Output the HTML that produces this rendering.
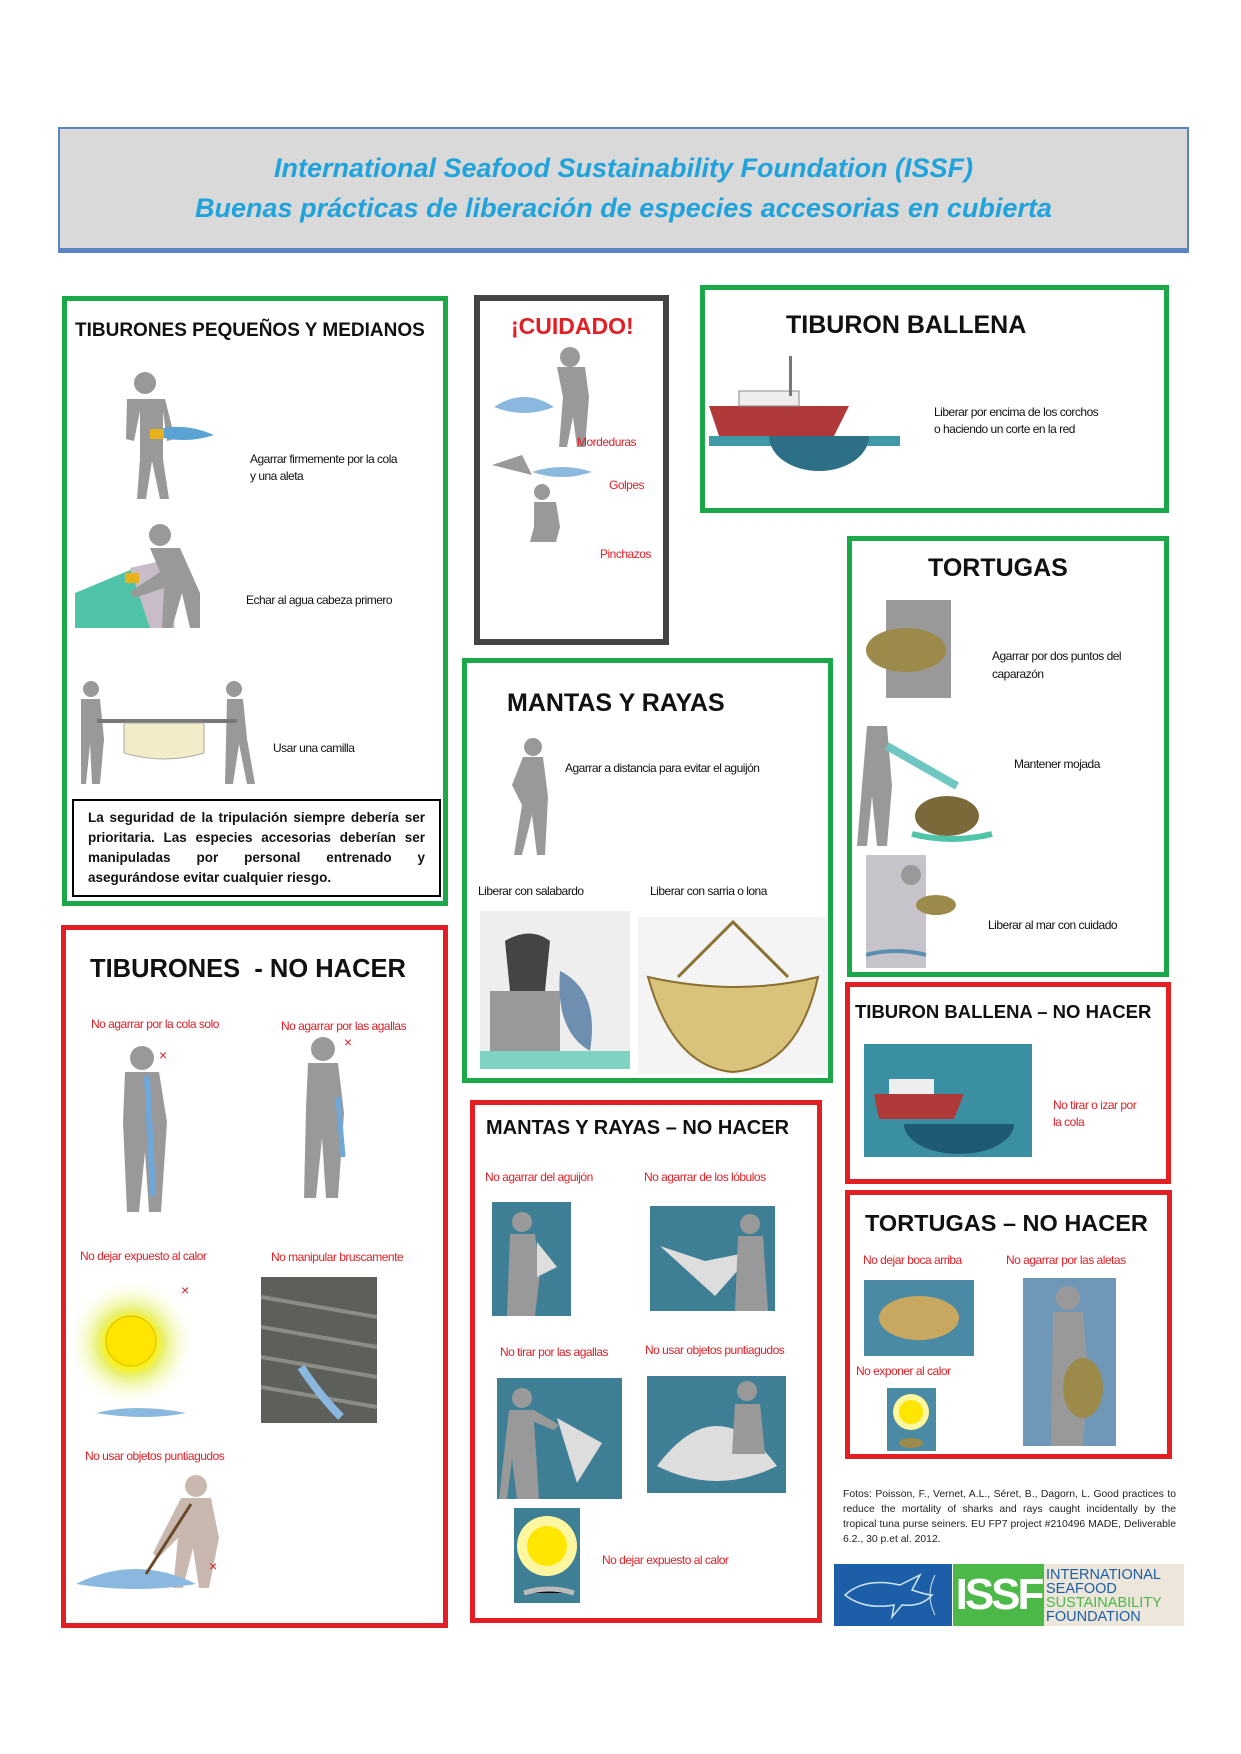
<!DOCTYPE html>
<html><head><meta charset="utf-8">
<style>
*{margin:0;padding:0;box-sizing:border-box}
body{width:1241px;height:1754px;background:#fff;position:relative;font-family:"Liberation Sans",Arial,sans-serif;overflow:hidden}
.a{position:absolute}
.g{position:absolute;border:5px solid #1aa84a;background:#fff}
.r{position:absolute;border:5px solid #e31e24;background:#fff}
.k{position:absolute;border:6px solid #444;background:#fff}
.t{position:absolute;font-weight:bold;color:#111;white-space:nowrap}
.l{position:absolute;font-size:12px;color:#111;white-space:nowrap;letter-spacing:-0.5px}
.rl{position:absolute;font-size:12px;color:#e31e24;white-space:nowrap;letter-spacing:-0.5px}
.img{position:absolute}
</style></head><body>

<!-- header -->
<div class="a" style="left:58px;top:127px;width:1131px;height:126px;background:#d9d9d9;border:2px solid #5b84c4;border-bottom:5px solid #5b84c4"></div>
<div class="a" style="left:58px;top:148px;width:1131px;text-align:center;color:#1fa3dc;font-style:italic;font-weight:bold;font-size:27px;line-height:40px">International Seafood Sustainability Foundation (ISSF)<br>Buenas prácticas de liberación de especies accesorias en cubierta</div>

<!-- small sharks -->
<div class="g" style="left:62px;top:296px;width:386px;height:610px"></div>
<div class="t" style="left:75px;top:320px;font-size:19px">TIBURONES PEQUEÑOS Y MEDIANOS</div>
<svg class="img" style="left:112px;top:371px" width="102" height="130"><circle cx="33" cy="12" r="11" fill="#999"/><path d="M15 28h38l10 40-8 2-4-30v48l6 40h-9l-8-38-6 38h-9l3-40V40l-6 30-8-2z" fill="#999"/><path d="M40 60q30-10 62 4-30 10-62 0z" fill="#5aa3d4"/><rect x="38" y="58" width="14" height="10" fill="#e8b21c"/></svg>
<div class="l" style="left:250px;top:451px;line-height:17px">Agarrar firmemente por la cola<br>y una aleta</div>
<svg class="img" style="left:75px;top:523px" width="133" height="107"><path d="M0 70l60-25 20 60H0z" fill="#4fc4a8"/><path d="M55 45l35-8 10 68H75z" fill="#c7bcc8"/><circle cx="85" cy="12" r="11" fill="#999"/><path d="M75 25h30l20 45v35h-10l-8-35-10 35h-10l2-40-30 10-4-6 30-20z" fill="#999"/><rect x="50" y="50" width="14" height="10" fill="#e8b21c"/></svg>
<div class="l" style="left:246px;top:593px">Echar al agua cabeza primero</div>
<svg class="img" style="left:79px;top:681px" width="177" height="107"><circle cx="12" cy="8" r="8" fill="#999"/><path d="M5 18h16l4 40-4 45h-8l-2-40-4 40H2l0-85z" fill="#999"/><circle cx="155" cy="8" r="8" fill="#999"/><path d="M148 18h16l4 40 8 45h-8l-8-40-6 40h-8l2-85z" fill="#999"/><rect x="18" y="38" width="140" height="4" fill="#777"/><path d="M45 42h80v30q-40 12-80 0z" fill="#f3ecc8" stroke="#aaa"/></svg>
<div class="l" style="left:273px;top:741px">Usar una camilla</div>
<div class="a" style="left:72px;top:799px;width:369px;height:98px;border:2.5px solid #000;padding:7px 14px 0 14px;font-size:13.5px;line-height:20px;text-align:justify;font-weight:bold;color:#111">La seguridad de la tripulación siempre debería ser prioritaria. Las especies accesorias deberían ser manipuladas por personal entrenado y asegurándose evitar cualquier riesgo.</div>

<!-- cuidado -->
<div class="k" style="left:474px;top:295px;width:195px;height:350px"></div>
<div class="t" style="left:511px;top:313px;font-size:23px;color:#e31e24">¡CUIDADO!</div>
<svg class="img" style="left:492px;top:347px" width="125" height="195"><circle cx="78" cy="10" r="10" fill="#999"/><path d="M65 20h28l4 30-4 50h-8l-4-30-6 30h-8l4-50z" fill="#999"/><path d="M2 60q30-20 60 0-30 12-60 0z" fill="#8ab8de"/><path d="M40 125q30-10 60 0-30 10-60 0z" fill="#8ab8de"/><path d="M0 118l30-10 10 20z" fill="#999"/><circle cx="50" cy="145" r="8" fill="#999"/><path d="M42 155h22l4 25-4 15h-26l4-15z" fill="#999"/></svg>
<div class="rl" style="left:577px;top:435px">Mordeduras</div>
<div class="rl" style="left:609px;top:478px">Golpes</div>
<div class="rl" style="left:600px;top:547px">Pinchazos</div>

<!-- ballena -->
<div class="g" style="left:700px;top:285px;width:469px;height:228px"></div>
<div class="t" style="left:786px;top:311px;font-size:25px">TIBURON BALLENA</div>
<svg class="img" style="left:709px;top:351px" width="191" height="122"><path d="M0 55h140l-15 30H10z" fill="#b03a3a"/><rect x="30" y="40" width="60" height="15" fill="#eee" stroke="#888"/><rect x="80" y="5" width="3" height="40" fill="#777"/><path d="M0 85h191v10H0z" fill="#3f9aa8"/><path d="M60 85a50 35 0 0 0 100 0z" fill="#2c6f87"/></svg>
<div class="l" style="left:934px;top:404px;line-height:17px">Liberar por encima de los corchos<br>o haciendo un corte en la red</div>

<!-- tortugas -->
<div class="g" style="left:847px;top:536px;width:322px;height:441px"></div>
<div class="t" style="left:928px;top:554px;font-size:25px">TORTUGAS</div>
<svg class="img" style="left:861px;top:600px" width="101" height="98"><rect x="25" y="0" width="65" height="98" fill="#999"/><ellipse cx="45" cy="50" rx="40" ry="22" fill="#9c8a4a"/></svg>
<div class="l" style="left:992px;top:647px;line-height:18px">Agarrar por dos puntos del<br>caparazón</div>
<svg class="img" style="left:857px;top:726px" width="144" height="129"><path d="M10 0h20l5 60-5 60h-10l-5-50-5 50H0z" fill="#999"/><path d="M30 20l70 40" stroke="#6ec7c0" stroke-width="8"/><ellipse cx="90" cy="90" rx="32" ry="20" fill="#7a6a3a"/><path d="M55 108q40 10 80 0" stroke="#4fc4a8" stroke-width="6" fill="none"/></svg>
<div class="l" style="left:1014px;top:757px">Mantener mojada</div>
<svg class="img" style="left:866px;top:855px" width="102" height="113"><rect x="0" y="0" width="60" height="113" fill="#c7c3cb"/><circle cx="45" cy="20" r="10" fill="#999"/><ellipse cx="70" cy="50" rx="20" ry="10" fill="#9c8a4a"/><path d="M0 100q30-8 60 0" stroke="#5a8fb0" stroke-width="4" fill="none"/></svg>
<div class="l" style="left:988px;top:918px">Liberar al mar con cuidado</div>

<!-- mantas -->
<div class="g" style="left:462px;top:658px;width:371px;height:425px"></div>
<div class="t" style="left:507px;top:689px;font-size:25px">MANTAS Y RAYAS</div>
<svg class="img" style="left:498px;top:737px" width="59" height="118"><circle cx="35" cy="10" r="9" fill="#999"/><path d="M25 20h20l5 40-3 58h-8l-5-40-10 40h-8l8-50-10-20z" fill="#999"/></svg>
<div class="l" style="left:565px;top:761px">Agarrar a distancia para evitar el aguijón</div>
<div class="l" style="left:478px;top:884px">Liberar con salabardo</div>
<div class="l" style="left:650px;top:884px">Liberar con sarria o lona</div>
<svg class="img" style="left:480px;top:911px" width="150" height="158"><rect x="0" y="0" width="150" height="158" fill="#eee"/><rect x="10" y="80" width="70" height="70" fill="#999"/><path d="M25 30q25-15 45 0l-5 50h-35z" fill="#444"/><path d="M80 60q40 20 30 80-35-20-30-80z" fill="#6e8fb0"/><path d="M0 140h150v18H0z" fill="#7fd3c2"/></svg>
<svg class="img" style="left:638px;top:917px" width="189" height="157"><rect width="189" height="157" fill="#f4f4f4"/><path d="M10 60q90 20 170 0-20 90-85 95-60-5-85-95z" fill="#d9c27a" stroke="#8a7030" stroke-width="2"/><path d="M40 60l55-55 55 55" stroke="#8a7030" stroke-width="3" fill="none"/></svg>

<!-- tiburones no hacer -->
<div class="r" style="left:61px;top:925px;width:387px;height:703px"></div>
<div class="t" style="left:90px;top:955px;font-size:25.5px">TIBURONES&nbsp; - NO HACER</div>
<div class="rl" style="left:91px;top:1017px">No agarrar por la cola solo</div>
<div class="rl" style="left:281px;top:1019px">No agarrar por las agallas</div>
<svg class="img" style="left:107px;top:1046px" width="73" height="169"><circle cx="35" cy="12" r="12" fill="#999"/><path d="M18 26h34l8 50-6 90h-12l-4-60-6 60H20l-4-90z" fill="#999"/><path d="M40 30l6 120" stroke="#6ea8d8" stroke-width="6"/><text x="52" y="14" font-size="14" fill="#e31e24">×</text></svg>
<svg class="img" style="left:298px;top:1037px" width="62" height="161"><circle cx="25" cy="12" r="12" fill="#999"/><path d="M10 26h30l6 50-6 85h-12l-4-60-6 60H6l2-90z" fill="#999"/><path d="M40 60l5 60" stroke="#6ea8d8" stroke-width="5"/><text x="46" y="10" font-size="14" fill="#e31e24">×</text></svg>
<div class="rl" style="left:80px;top:1249px">No dejar expuesto al calor</div>
<div class="rl" style="left:271px;top:1250px">No manipular bruscamente</div>
<svg class="img" style="left:76px;top:1283px" width="127" height="146"><defs><radialGradient id="s1"><stop offset="0.35" stop-color="#fff200"/><stop offset="0.5" stop-color="#e8f070"/><stop offset="1" stop-color="#fff" stop-opacity="0"/></radialGradient></defs><circle cx="55" cy="60" r="65" fill="url(#s1)"/><circle cx="55" cy="58" r="25" fill="#ffe600" stroke="#d6b800"/><path d="M20 130q40-10 90 0-40 8-90 0z" fill="#8ab8de"/><text x="105" y="12" font-size="14" fill="#e31e24">×</text></svg>
<svg class="img" style="left:261px;top:1277px" width="116" height="146"><rect width="116" height="146" fill="#5d5f5a"/><path d="M0 20l116 20M0 50l116 20M0 80l116 20M0 110l116 20" stroke="#8a8c85" stroke-width="4"/><path d="M40 90q20 30 40 50" stroke="#8ab8de" stroke-width="8"/></svg>
<div class="rl" style="left:85px;top:1449px">No usar objetos puntiagudos</div>
<svg class="img" style="left:76px;top:1474px" width="160" height="129"><circle cx="120" cy="12" r="11" fill="#c9b8b0"/><path d="M105 24h30l8 40-10 50h-10l-6-40-10 40h-10l5-50-20 20-5-5z" fill="#c9b8b0"/><path d="M0 110q60-30 120 0-60 10-120 0z" fill="#8ab8de"/><path d="M70 100l45-70" stroke="#6a4a2a" stroke-width="3"/><text x="133" y="97" font-size="14" fill="#e31e24">×</text></svg>

<!-- mantas no hacer -->
<div class="r" style="left:470px;top:1100px;width:352px;height:523px"></div>
<div class="t" style="left:486px;top:1117px;font-size:20px">MANTAS Y RAYAS – NO HACER</div>
<div class="rl" style="left:485px;top:1170px">No agarrar del aguijón</div>
<div class="rl" style="left:644px;top:1170px">No agarrar de los lóbulos</div>
<svg class="img" style="left:492px;top:1202px" width="79" height="114"><rect width="79" height="114" fill="#3f7f95"/><circle cx="30" cy="20" r="10" fill="#999"/><path d="M18 32h25l5 40-5 42H15z" fill="#999"/><path d="M45 40l20 25-20 10z" fill="#ddd"/></svg>
<svg class="img" style="left:650px;top:1206px" width="125" height="105"><rect width="125" height="105" fill="#3f7f95"/><path d="M10 40l55 50 40-45-50 10z" fill="#ddd"/><circle cx="100" cy="18" r="10" fill="#999"/><path d="M88 30h25l5 75H85z" fill="#999"/></svg>
<div class="rl" style="left:500px;top:1345px">No tirar por las agallas</div>
<div class="rl" style="left:645px;top:1343px">No usar objetos puntiagudos</div>
<svg class="img" style="left:497px;top:1378px" width="125" height="121"><rect width="125" height="121" fill="#3f7f95"/><circle cx="25" cy="20" r="10" fill="#999"/><path d="M12 32h25l25 15-5 5-20-8 5 77H20l-5-40-5 40H2z" fill="#999"/><path d="M60 40l45 25-25 40z" fill="#ddd"/></svg>
<svg class="img" style="left:647px;top:1376px" width="139" height="117"><rect width="139" height="117" fill="#3f7f95"/><path d="M10 90q60-80 120 0-60 30-120 0z" fill="#ddd"/><circle cx="100" cy="15" r="10" fill="#999"/><path d="M88 28h25l5 50H85z" fill="#999"/></svg>
<svg class="img" style="left:514px;top:1508px" width="66" height="95"><rect width="66" height="95" fill="#3f7f95"/><circle cx="33" cy="38" r="30" fill="#fff7a0"/><circle cx="33" cy="38" r="20" fill="#ffe600"/><path d="M10 85q25-8 50 0" stroke="#bbb" stroke-width="5"/></svg>
<div class="rl" style="left:602px;top:1553px">No dejar expuesto al calor</div>

<!-- ballena no hacer -->
<div class="r" style="left:845px;top:982px;width:326px;height:202px"></div>
<div class="t" style="left:855px;top:1001px;font-size:18.5px">TIBURON BALLENA – NO HACER</div>
<svg class="img" style="left:864px;top:1044px" width="168" height="113"><rect width="168" height="113" fill="#3a8fa3"/><path d="M10 50h90l-10 25H15z" fill="#b03a3a"/><rect x="25" y="35" width="45" height="15" fill="#eee"/><path d="M40 80a55 30 0 0 0 110 0z" fill="#1f5a75"/></svg>
<div class="rl" style="left:1053px;top:1097px;line-height:17px">No tirar o izar por<br>la cola</div>

<!-- tortugas no hacer -->
<div class="r" style="left:845px;top:1190px;width:327px;height:269px"></div>
<div class="t" style="left:865px;top:1210px;font-size:23.5px">TORTUGAS – NO HACER</div>
<div class="rl" style="left:863px;top:1253px">No dejar boca arriba</div>
<div class="rl" style="left:1006px;top:1253px">No agarrar por las aletas</div>
<svg class="img" style="left:864px;top:1280px" width="110" height="76"><rect width="110" height="76" fill="#4a8aa5"/><ellipse cx="55" cy="38" rx="40" ry="22" fill="#c8a860"/></svg>
<svg class="img" style="left:1023px;top:1278px" width="93" height="168"><rect width="93" height="168" fill="#6f98b8"/><circle cx="45" cy="20" r="12" fill="#999"/><path d="M30 34h30l5 60-5 74H28z" fill="#999"/><ellipse cx="60" cy="110" rx="20" ry="30" fill="#9c8a4a"/></svg>
<div class="rl" style="left:856px;top:1364px">No exponer al calor</div>
<svg class="img" style="left:887px;top:1388px" width="49" height="63"><rect width="49" height="63" fill="#4a8aa5"/><circle cx="24" cy="24" r="18" fill="#fff7a0"/><circle cx="24" cy="24" r="12" fill="#ffe600"/><ellipse cx="24" cy="55" rx="12" ry="5" fill="#9c8a4a"/></svg>

<!-- fotos -->
<div class="a" style="left:843px;top:1487px;width:333px;font-size:10.4px;line-height:15px;text-align:justify;color:#222">Fotos: Poisson, F., Vernet, A.L., Séret, B., Dagorn, L. Good practices to reduce the mortality of sharks and rays caught incidentally by the tropical tuna purse seiners. EU FP7 project #210496 MADE, Deliverable 6.2., 30 p.et al. 2012.</div>

<!-- logo -->
<div class="a" style="left:834px;top:1564px;width:118px;height:62px;background:#1d5ea8"></div>
<svg class="img" style="left:840px;top:1570px" width="110" height="50"><path d="M5 25q20-18 55-10l20-10-8 15q15 5 20 5-10 12-30 10l-10 12 2-12q-30 5-49-10z" fill="none" stroke="#cfe6f5" stroke-width="1.5"/><path d="M95 5q-10 20 0 40" stroke="#cfe6f5" fill="none"/></svg>
<div class="a" style="left:953px;top:1564px;width:91px;height:62px;background:#4bb848;color:#fff;font-weight:bold;font-size:44px;line-height:62px;text-align:center;letter-spacing:-3px;font-family:'Liberation Sans Narrow','Liberation Sans',sans-serif">ISSF</div>
<div class="a" style="left:1044px;top:1564px;width:140px;height:62px;background:#ece7da;font-size:14.5px;line-height:14px;padding-top:4px;padding-left:2px;color:#1d5ea8;white-space:nowrap">INTERNATIONAL<br>SEAFOOD<br><span style="color:#4bb848">SUSTAINABILITY</span><br>FOUNDATION</div>

</body></html>
